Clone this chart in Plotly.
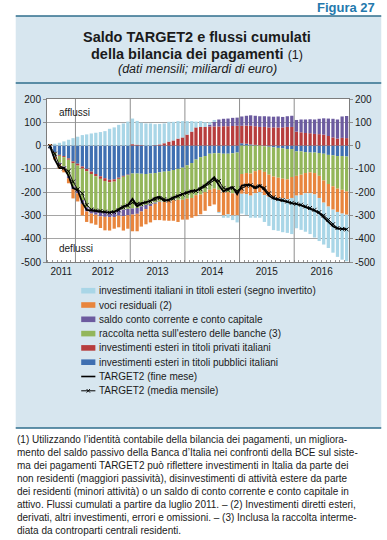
import plotly.graph_objects as go
import pandas as pd

# ---------------- data (miliardi di euro, flussi cumulati da luglio 2011) ----------------
months = [d.strftime("%Y-%m-16") for d in pd.date_range("2011-07-01", "2016-12-01", freq="MS")]

pubblici = [-10, -28, -40, -45, -55, -68, -78, -90, -100, -112, -122, -132, -140, -147, -145,
            -138, -130, -125, -120, -120, -121, -122, -120, -118, -115, -112, -110, -105, -100, -95,
            -85, -75, -60, -50, -45, -35, -33, -33, -35, -35, -33, -30,
            10, 8, 5, 3, 0, -3, -5, -8, -10, -12, -15, -15,
            -25, -25, -28, -30, -30, -32, -35, -40, -42, -45, -45, -47]

privati = [0, -3, -4, -5, -6, -7, -8, -9, -10, -10, -10, -11, -12, -11, -10,
           -5, -4, -2, 6, 4, 2, 0, 0, 2, 5, 10, 17, 22, 30, 35,
           47, 60, 78, 80, 80, 82, 82, 82, 83, 83, 84, 85,
           75, 78, 80, 80, 80, 80, 78, 78, 78, 78, 80, 80,
           60, 57, 54, 53, 50, 49, 47, 41, 35, 30, 33, 32]

raccolta = [-2, -12, -30, -40, -70, -100, -105, -135, -155, -150, -145, -140, -132, -127, -128,
            -130, -141, -145, -150, -148, -140, -133, -130, -127, -125, -130, -128, -130, -133, -138,
            -143, -150, -153, -160, -155, -155, -152, -157, -165, -165, -172, -170,
            -122, -118, -120, -110, -105, -110, -120, -125, -128, -130, -130, -120,
            -105, -100, -90, -85, -88, -98, -115, -125, -133, -140, -145, -150]

saldo_cc = [-3, -5, -6, -7, -9, -12, -14, -16, -18, -20, -20, -21, -22, -22, -24,
            -28, -28, -27, -26, -25, -22, -18, -10, -5, -2, 0, 0, 0, 0, 0,
            0, 0, 0, 0, 0, 8, 20, 30, 32, 33, 35, 35,
            40, 42, 45, 45, 46, 46, 47, 46, 47, 45, 46, 48,
            50, 55, 58, 60, 62, 66, 70, 75, 80, 82, 92, 95]

residuali = [6, -12, -20, -18, -22, -40, -35, -50, -45, -42, -43, -50, -58, -58, -50,
             -50, -62, -58, -72, -75, -65, -65, -70, -70, -78, -80, -85, -88, -95, -85,
             -90, -85, -90, -85, -80, -70, -68, -95, -100, -95, -95, -100,
             -85, -90, -95, -95, -95, -100, -95, -90, -88, -85, -85, -90,
             -85, -87, -87, -90, -92, -95, -95, -97, -100, -100, -102, -100]

titoli_esteri = [0, 8, 12, 18, 25, 32, 38, 45, 48, 52, 55, 58, 62, 72, 78,
                 89, 95, 103, 110, 102, 96, 95, 95, 90, 88, 85, 85, 80, 75, 70,
                 58, 45, 25, 25, 20, 10, 8, -5, -10, -15, -20, -30,
                 -85, -90, -95, -105, -110, -115, -125, -140, -140, -145, -145, -155,
                 -140, -150, -165, -175, -185, -185, -180, -178, -185, -193, -198, -200]

target2_fine = [-5, -60, -97, -96, -130, -183, -192, -245, -276, -279, -281, -283, -286, -287, -284,
                -273, -261, -255, -229, -261, -247, -243, -237, -225, -220, -238, -232, -222, -215, -208,
                -200, -194, -194, -183, -169, -154, -136, -170, -197, -185, -178, -209,
                -172, -168, -170, -183, -170, -190, -215, -228, -232, -236, -242, -248,
                -250, -257, -264, -271, -280, -290, -309, -326, -347, -357, -357, -359]

target2_media = [-2, -35, -85, -98, -110, -155, -188, -205, -255, -275, -279, -281, -284, -288, -286,
                 -278, -266, -258, -245, -250, -252, -245, -240, -232, -226, -230, -236, -228, -218, -210,
                 -203, -198, -195, -188, -176, -163, -148, -152, -182, -190, -183, -195,
                 -185, -172, -170, -178, -175, -182, -205, -222, -230, -234, -240, -246,
                 -250, -254, -261, -268, -276, -286, -300, -318, -338, -354, -358, -360]

year_labels = ["2011", "2012", "2013", "2014", "2015", "2016"]
y_ticks = [200, 100, 0, -100, -200, -300, -400, -500]
y_ticktext = ["200", "100", "0", "-100", "-200", "-300", "-400", "-500"]

names = {
    "titoli_esteri": "investimenti italiani in titoli esteri (segno invertito)",
    "residuali": "voci residuali (2)",
    "saldo_cc": "saldo conto corrente e conto capitale",
    "raccolta": "raccolta netta sull'estero delle banche (3)",
    "privati": "investimenti esteri in titoli privati italiani",
    "pubblici": "investimenti esteri in titoli pubblici italiani",
    "fine": "TARGET2 (fine mese)",
    "media": "TARGET2 (media mensile)",
}
colors = {
    "pubblici": "#3f6fb1",
    "privati": "#b73d3d",
    "raccolta": "#93b65a",
    "saldo_cc": "#6c5b9f",
    "residuali": "#e8853d",
    "titoli_esteri": "#a9d6e7",
}

# ---------------- geometry ----------------
W, H = 387, 540
ML, MR, MT, MB = 47, 31, 99, 278
PW, PH = W - ML - MR, H - MT - MB
FONT = "Liberation Sans, Arial, Helvetica, sans-serif"
RULE = "#2f6e8d"
PANEL = "#d7e6ef"
GRID = "#8f8f8f"


def fx(px):
    return (px - ML) / PW


def fy(py):
    return (H - MB - py) / PH


x_start = pd.Timestamp("2011-06-25")
x_end = pd.Timestamp("2017-01-01")
label_pos = [x_start + (pd.Timestamp("2012-01-01") - x_start) / 2] + \
            [pd.Timestamp(f"{y}-07-02") for y in year_labels[1:]]
label_pos = [d.strftime("%Y-%m-%d %H:%M") for d in label_pos]

fig = go.Figure()

series = [("pubblici", pubblici), ("privati", privati), ("raccolta", raccolta),
          ("saldo_cc", saldo_cc), ("residuali", residuali), ("titoli_esteri", titoli_esteri)]
for key, vals in series:
    fig.add_trace(go.Bar(x=months, y=vals, name=names[key], marker_color=colors[key],
                         marker_line_width=0, showlegend=False, yaxis="y"))

fig.add_trace(go.Scatter(x=months, y=target2_media, name=names["media"], mode="lines+markers",
                         line=dict(color="black", width=0.9),
                         marker=dict(symbol="x-thin", size=4, line=dict(color="black", width=0.9)),
                         showlegend=False, yaxis="y2"))
fig.add_trace(go.Scatter(x=months, y=target2_fine, name=names["fine"], mode="lines",
                         line=dict(color="black", width=1.8), showlegend=False, yaxis="y2"))

shapes = []
# panel + rules
shapes.append(dict(type="rect", xref="paper", yref="paper", x0=fx(15), x1=fx(W + 2), y0=fy(428), y1=fy(16),
                   fillcolor=PANEL, line=dict(width=0), layer="below"))
shapes.append(dict(type="rect", xref="paper", yref="paper", x0=0, x1=1, y0=0, y1=1,
                   fillcolor="white", line=dict(width=0), layer="below"))
for yy in [16, 83, 428]:
    shapes.append(dict(type="line", xref="paper", yref="paper", x0=fx(15), x1=fx(W + 2), y0=fy(yy), y1=fy(yy),
                       line=dict(color=RULE, width=1.6), layer="above"))
# vertical year gridlines
for y in year_labels[1:]:
    shapes.append(dict(type="line", xref="x", yref="paper", x0=f"{y}-01-01", x1=f"{y}-01-01", y0=0, y1=1,
                       line=dict(color=GRID, width=1), layer="below"))

annotations = []
# header
annotations.append(dict(text="<b>Figura 27</b>", x=fx(385), y=fy(8), xref="paper", yref="paper",
                        xanchor="right", yanchor="middle", showarrow=False,
                        font=dict(family=FONT, size=13, color="#2479ad")))
annotations.append(dict(text="<b>Saldo TARGET2 e flussi cumulati</b>", x=fx(200), y=fy(37.5),
                        xref="paper", yref="paper", xanchor="center", yanchor="middle", showarrow=False,
                        font=dict(family=FONT, size=14.5, color="#1a1a1a")))
annotations.append(dict(text="<b>della bilancia dei pagamenti</b> <span style='font-size:12.5px'>(1)</span>",
                        x=fx(200.5), y=fy(53.5), xref="paper", yref="paper", xanchor="center",
                        yanchor="middle", showarrow=False, font=dict(family=FONT, size=14.5, color="#1a1a1a")))
annotations.append(dict(text="<i>(dati mensili; miliardi di euro)</i>", x=fx(201), y=fy(68.5),
                        xref="paper", yref="paper", xanchor="center", yanchor="middle", showarrow=False,
                        font=dict(family=FONT, size=12.5, color="#1a1a1a")))
# inside labels
annotations.append(dict(text="afflussi", x=fx(57), y=fy(112), xref="paper", yref="paper",
                        xanchor="left", yanchor="middle", showarrow=False,
                        font=dict(family=FONT, size=10, color="#1a1a1a")))
annotations.append(dict(text="deflussi", x=fx(57), y=fy(248.5), xref="paper", yref="paper",
                        xanchor="left", yanchor="middle", showarrow=False,
                        font=dict(family=FONT, size=10, color="#1a1a1a")))

# custom legend
legend_keys = ["titoli_esteri", "residuali", "saldo_cc", "raccolta", "privati", "pubblici", "fine", "media"]
for i, key in enumerate(legend_keys):
    yc = 290.7 + 14.3 * i
    if key in colors:
        shapes.append(dict(type="rect", xref="paper", yref="paper", x0=fx(82), x1=fx(96.5),
                           y0=fy(yc + 2.8), y1=fy(yc - 2.8), fillcolor=colors[key], line=dict(width=0)))
    elif key == "fine":
        shapes.append(dict(type="line", xref="paper", yref="paper", x0=fx(82), x1=fx(96.5), y0=fy(yc), y1=fy(yc),
                           line=dict(color="black", width=1.6)))
    else:
        shapes.append(dict(type="line", xref="paper", yref="paper", x0=fx(82), x1=fx(96.5), y0=fy(yc), y1=fy(yc),
                           line=dict(color="black", width=1)))
        for s in (1, -1):
            shapes.append(dict(type="line", xref="paper", yref="paper", x0=fx(87.5), x1=fx(91),
                               y0=fy(yc - 1.8 * s), y1=fy(yc + 1.8 * s), line=dict(color="black", width=0.9)))
    annotations.append(dict(text=names[key], x=fx(98.5), y=fy(yc), xref="paper", yref="paper",
                            xanchor="left", yanchor="middle", showarrow=False,
                            font=dict(family=FONT, size=10, color="#1a1a1a")))

# footnote
footnote = "<br>".join([
    "(1) Utilizzando l’identità contabile della bilancia dei pagamenti, un migliora-",
    "mento del saldo passivo della Banca d’Italia nei confronti della BCE sul siste-",
    "ma dei pagamenti TARGET2 può riflettere investimenti in Italia da parte dei",
    "non residenti (maggiori passività), disinvestimenti di attività estere da parte",
    "dei residenti (minori attività) o un saldo di conto corrente e conto capitale in",
    "attivo. Flussi cumulati a partire da luglio 2011. – (2) Investimenti diretti esteri,",
    "derivati, altri investimenti, errori e omissioni. – (3) Inclusa la raccolta interme-",
    "diata da controparti centrali residenti.",
])
annotations.append(dict(text=footnote, x=fx(15.5), y=fy(433), xref="paper", yref="paper",
                        xanchor="left", yanchor="top", align="left", showarrow=False, borderpad=0,
                        font=dict(family=FONT, size=10, color="#1a1a1a")))

axis_font = dict(family=FONT, size=10, color="#1a1a1a")
fig.update_layout(
    width=W, height=H,
    margin=dict(l=ML, r=MR, t=MT, b=MB, pad=0),
    paper_bgcolor="white", plot_bgcolor="rgba(0,0,0,0)",
    barmode="relative", bargap=0.22,
    showlegend=False,
    font=dict(family=FONT, size=10, color="#1a1a1a"),
    xaxis=dict(type="date", range=[x_start, x_end], tickmode="array", tickvals=label_pos,
               ticktext=year_labels, ticks="", showgrid=False, zeroline=False,
               showline=True, linecolor="#7d7d7d", linewidth=1, mirror=True, tickfont=axis_font,
               minor=dict(ticks="inside", ticklen=2, tickcolor="#7d7d7d", tickwidth=0.8,
                          dtick="M1", tick0="2011-07-01", showgrid=False)),
    yaxis=dict(range=[-500, 200], tickmode="array", tickvals=y_ticks, ticktext=y_ticktext,
               showgrid=True, gridcolor=GRID, gridwidth=0.8, zeroline=False,
               ticks="outside", ticklen=3, tickcolor=GRID, showline=True, linecolor="#7d7d7d",
               linewidth=1, mirror=True, tickfont=axis_font),
    yaxis2=dict(range=[-500, 200], overlaying="y", side="right", tickmode="array", tickvals=y_ticks,
                ticktext=y_ticktext, showgrid=False, zeroline=False, ticks="outside", ticklen=3,
                tickcolor=GRID, showline=True, linecolor="#7d7d7d", linewidth=1, tickfont=axis_font),
    shapes=shapes,
    annotations=annotations,
)

fig.write_html("out.html",
               config={"displayModeBar": False, "staticPlot": True},
               post_script="document.body.style.margin='0';document.body.style.padding='0';"
                           "document.documentElement.style.overflow='hidden';")
